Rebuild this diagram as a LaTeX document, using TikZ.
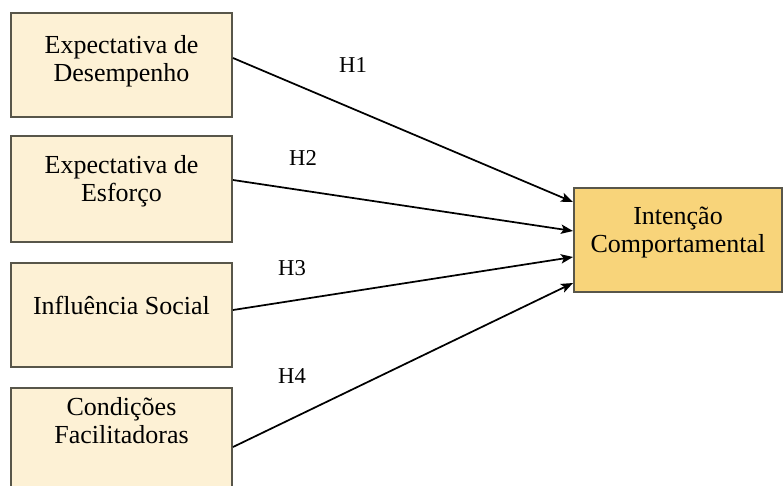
\documentclass[tikz,border=0pt]{standalone}
\usepackage{fontspec}
\setmainfont{Liberation Serif}
\usetikzlibrary{arrows}
\usetikzlibrary{arrows.meta}
\usetikzlibrary{positioning}
\definecolor{boxcream}{RGB}{253,241,213}
\definecolor{boxgold}{RGB}{248,212,122}
\definecolor{boxedge}{RGB}{88,86,74}

\begin{document}
\begin{tikzpicture}[->,>={Stealth[length=9pt,width=7pt,inset=2pt]},x=0.75pt,y=-0.75pt]
	\tikzset{factor/.style = {shape=rectangle, draw=boxedge, line width=1.5pt, fill=boxcream, minimum width=165.75pt, minimum height=78pt}}
	\tikzset{caption/.style = {align=center, font=\fontsize{19.5}{21}\selectfont}}
	\tikzset{hyp/.style = {font=\fontsize{17}{20}\selectfont}}
	\tikzset{path/.style = {line width=1.3pt}}
	\useasboundingbox (0,0) rectangle (784,485);
	
	% factores
	\node[factor] (DESEMP) at (121.5,65) {};
	\node[factor, minimum height=79.5pt] (ESFORCO) at (121.5,189) {};
	\node[factor] (SOCIAL) at (121.5,315) {};
	\node[factor] (CONDIC) at (121.5,440) {};
	\node[factor, fill=boxgold, minimum width=156pt] (INTENC) at (678,240) {};
	
	\node[caption] (tDESEMP) at (121.5,61) {Expectativa de\\Desempenho};
	\node[caption] (tESFORCO) at (121.5,181.5) {Expectativa de\\Esforço};
	\node[caption] (tSOCIAL) at (121.5,305) {Influência Social};
	\node[caption] (tCONDIC) at (121.5,421) {Condições\\Facilitadoras};
	\node[caption] (tINTENC) at (678,233) {Intenção\\Comportamental};
	
	% hipoteses
	\draw[path] ([yshift=5.25pt]DESEMP.east) -- ([yshift=28.5pt]INTENC.west);
	\draw[path] ([yshift=6.75pt]ESFORCO.east) -- ([yshift=6.75pt]INTENC.west);
	\draw[path] ([yshift=3.75pt]SOCIAL.east) -- ([yshift=-12.75pt]INTENC.west);
	\draw[path] ([yshift=-5.25pt]CONDIC.east) -- ([yshift=-32.25pt]INTENC.west);
	
	\node[hyp] (H1) at (353,65) {H1};
	\node[hyp] (H2) at (303,158) {H2};
	\node[hyp] (H3) at (292,268) {H3};
	\node[hyp] (H4) at (292,376) {H4};
\end{tikzpicture}
\end{document}
